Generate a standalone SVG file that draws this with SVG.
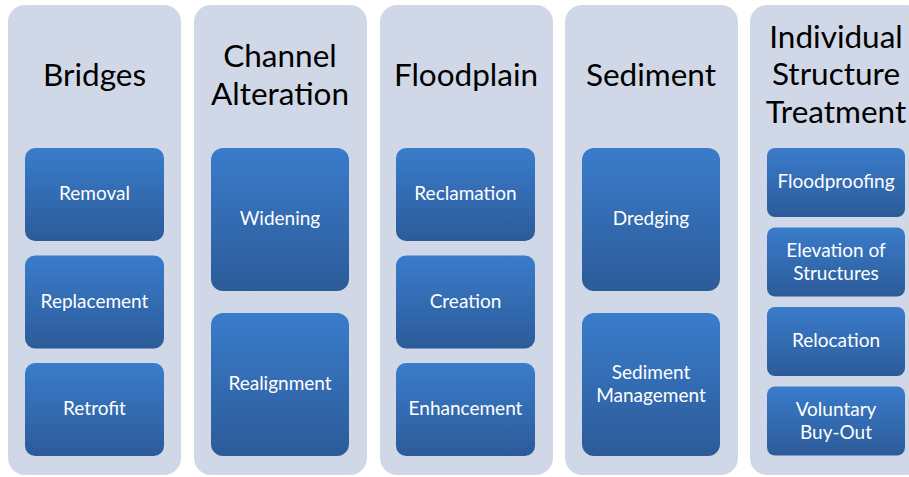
<svg xmlns="http://www.w3.org/2000/svg" width="909" height="477" viewBox="0 0 909 477">
<defs>
<linearGradient id="g" x1="0" y1="0" x2="0" y2="1">
<stop offset="0" stop-color="#3a7ccb"/>
<stop offset="1" stop-color="#2c5b99"/>
</linearGradient>
<style>
.col{fill:#d0d8e7}
.box{fill:url(#g)}
.t{font-family:Lato,"Open Sans","Liberation Sans",sans-serif;font-size:31.5px;fill:#000;text-anchor:middle}
.l{font-family:Lato,"Open Sans","Liberation Sans",sans-serif;font-size:19px;fill:#fff;text-anchor:middle}
</style>
</defs>
<g id="col-bridges">
<rect class="col" x="8" y="5" width="173" height="470" rx="17"/>
<text class="t" x="94.5" y="86">Bridges</text>
</g>
<g id="col-channel">
<rect class="col" x="194" y="5" width="173" height="470" rx="17"/>
<text class="t" x="280" y="67">Channel</text>
<text class="t" x="280" y="105">Alteration</text>
</g>
<g id="col-floodplain">
<rect class="col" x="380" y="5" width="173" height="470" rx="17"/>
<text class="t" x="466" y="86">Floodplain</text>
</g>
<g id="col-sediment">
<rect class="col" x="565" y="5" width="173" height="470" rx="17"/>
<text class="t" x="651" y="86">Sediment</text>
</g>
<g id="col-individual">
<rect class="col" x="750" y="5" width="173" height="470" rx="17"/>
<text class="t" x="836" y="48">Individual</text>
<text class="t" x="836" y="85">Structure</text>
<text class="t" x="836" y="123">Treatment</text>
</g>
<g id="removal"><rect class="box" x="25" y="148" width="139" height="93" rx="10"/><text class="l" x="94.5" y="200">Removal</text></g>
<g id="replacement"><rect class="box" x="25" y="255.5" width="139" height="93" rx="10"/><text class="l" x="94.5" y="307.5">Replacement</text></g>
<g id="retrofit"><rect class="box" x="25" y="363" width="139" height="93" rx="10"/><text class="l" x="94.5" y="415">Retrofit</text></g>
<g id="widening"><rect class="box" x="211" y="148" width="138" height="143" rx="12"/><text class="l" x="280" y="225">Widening</text></g>
<g id="realignment"><rect class="box" x="211" y="313" width="138" height="143" rx="12"/><text class="l" x="280" y="390">Realignment</text></g>
<g id="reclamation"><rect class="box" x="396" y="148" width="139" height="93" rx="10"/><text class="l" x="465.5" y="200">Reclamation</text></g>
<g id="creation"><rect class="box" x="396" y="255.5" width="139" height="93" rx="10"/><text class="l" x="465.5" y="307.5">Creation</text></g>
<g id="enhancement"><rect class="box" x="396" y="363" width="139" height="93" rx="10"/><text class="l" x="465.5" y="415">Enhancement</text></g>
<g id="dredging"><rect class="box" x="582" y="148" width="138" height="143" rx="12"/><text class="l" x="651" y="225">Dredging</text></g>
<g id="sediment-management"><rect class="box" x="582" y="313" width="138" height="143" rx="12"/><text class="l" x="651" y="378.5">Sediment</text><text class="l" x="651" y="401.5">Management</text></g>
<g id="floodproofing"><rect class="box" x="767" y="148" width="138" height="69" rx="8"/><text class="l" x="836" y="188">Floodproofing</text></g>
<g id="elevation"><rect class="box" x="767" y="227.5" width="138" height="69" rx="8"/><text class="l" x="836" y="256.5">Elevation of</text><text class="l" x="836" y="279.5">Structures</text></g>
<g id="relocation"><rect class="box" x="767" y="307" width="138" height="69" rx="8"/><text class="l" x="836" y="347">Relocation</text></g>
<g id="buyout"><rect class="box" x="767" y="386.5" width="138" height="69" rx="8"/><text class="l" x="836" y="415.5">Voluntary</text><text class="l" x="836" y="438.5">Buy-Out</text></g>
<g id="connectors"/>
</svg>
